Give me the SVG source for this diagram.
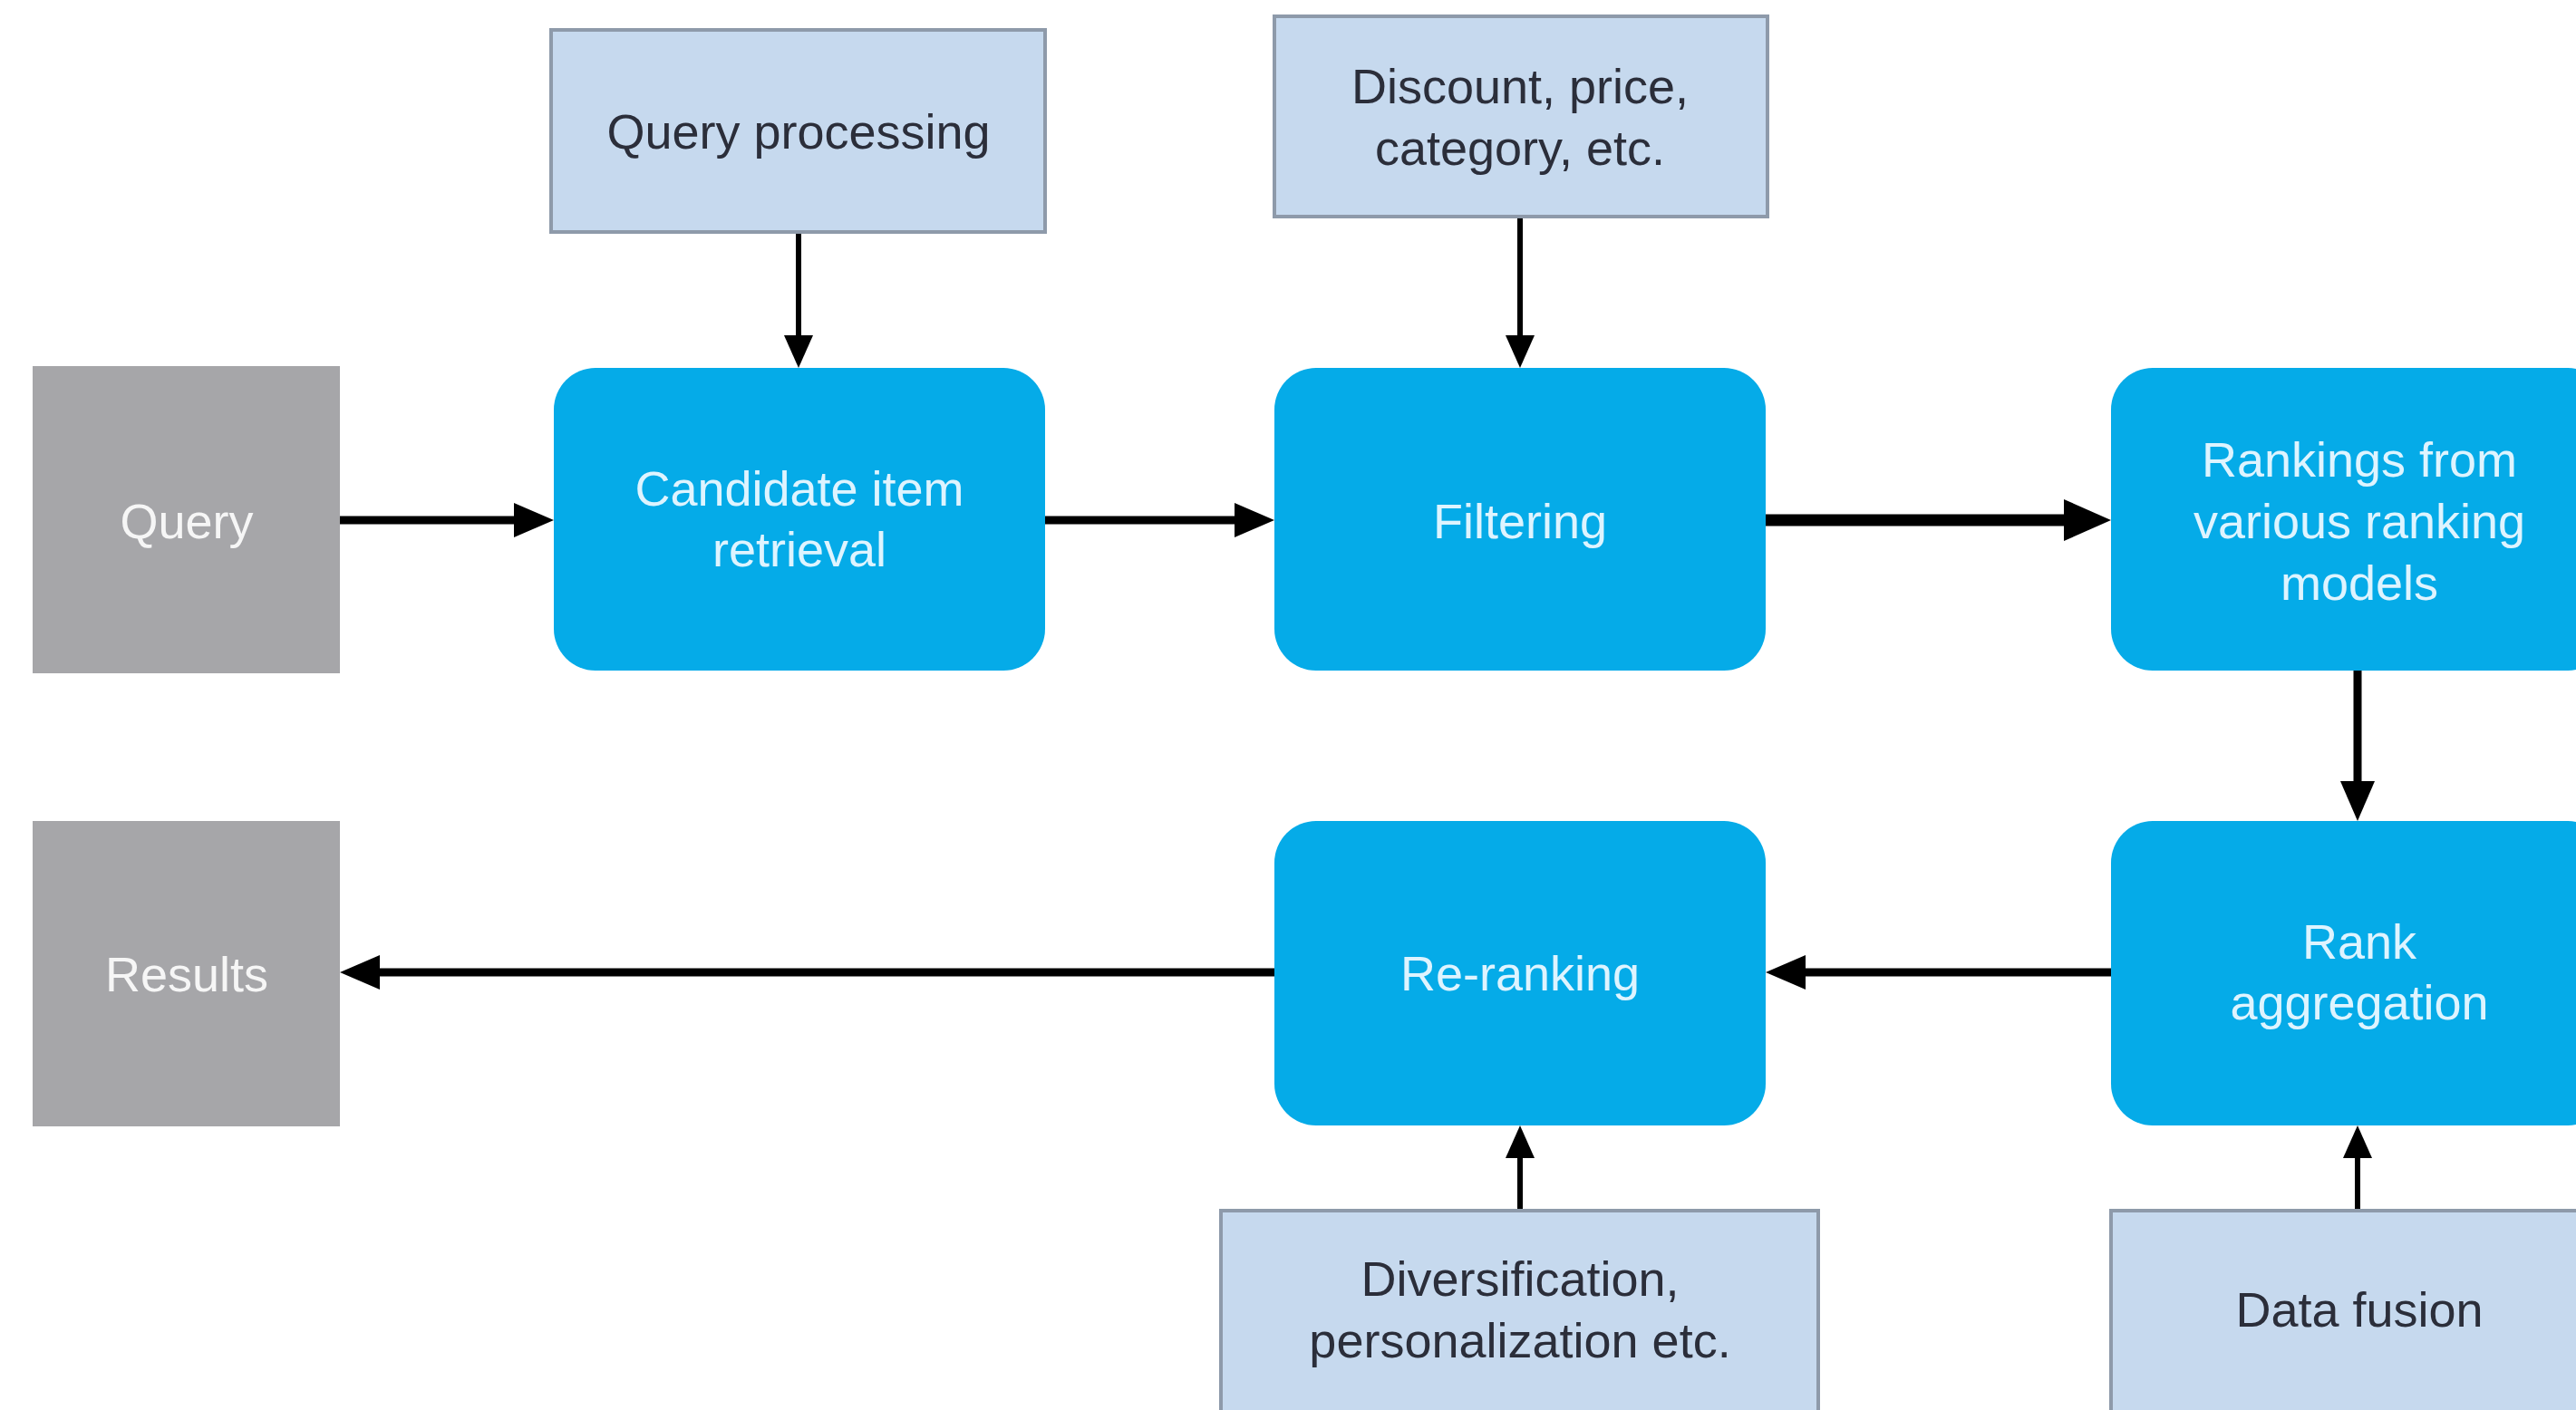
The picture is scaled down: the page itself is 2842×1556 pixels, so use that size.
<svg xmlns="http://www.w3.org/2000/svg" width="2842" height="1556" viewBox="0 0 2842 1556">
<style>
.blue{fill:#05abe8}
.gray{fill:#a6a6a9}
.light{fill:#c6d9ee;stroke:#8e9aaa;stroke-width:4}
text{font-family:"Liberation Sans",Arial,sans-serif;font-size:54px;text-anchor:middle;dominant-baseline:central}
.tb{fill:#def4ff}
.tg{fill:#f6f6f6}
.tl{fill:#2b2e3a}
.c{stroke:#000;fill:none}
.w8{stroke-width:9}
.w11{stroke-width:13}
.w5{stroke-width:6}
</style>
<defs>
<marker id="ah" markerUnits="userSpaceOnUse" markerWidth="44" markerHeight="38" refX="24" refY="19" orient="auto">
<path d="M0,0 L44,19 L0,38 z" fill="#000"/>
</marker>
<marker id="ahBig" markerUnits="userSpaceOnUse" markerWidth="52" markerHeight="46" refX="28" refY="23" orient="auto">
<path d="M0,0 L52,23 L0,46 z" fill="#000"/>
</marker>
<marker id="ahSmall" markerUnits="userSpaceOnUse" markerWidth="36" markerHeight="32" refX="18" refY="16" orient="auto">
<path d="M0,0 L36,16 L0,32 z" fill="#000"/>
</marker>
</defs>
<rect width="2842" height="1556" fill="#ffffff"/>
<g id="connectors">
<line class="c w8" x1="375" y1="574" x2="591" y2="574" marker-end="url(#ah)"/>
<line class="c w8" x1="1153" y1="574" x2="1386" y2="574" marker-end="url(#ah)"/>
<line class="c w11" x1="1948" y1="574" x2="2305" y2="574" marker-end="url(#ahBig)"/>
<line class="c w5" x1="881" y1="256" x2="881" y2="388" marker-end="url(#ahSmall)"/>
<line class="c w5" x1="1677" y1="239" x2="1677" y2="388" marker-end="url(#ahSmall)"/>
<line class="c w8" x1="2601" y1="740" x2="2601" y2="886" marker-end="url(#ah)"/>
<line class="c w8" x1="2329" y1="1073" x2="1968" y2="1073" marker-end="url(#ah)"/>
<line class="c w8" x1="1406" y1="1073" x2="395" y2="1073" marker-end="url(#ah)"/>
<line class="c w5" x1="1677" y1="1336" x2="1677" y2="1260" marker-end="url(#ahSmall)"/>
<line class="c w5" x1="2601" y1="1336" x2="2601" y2="1260" marker-end="url(#ahSmall)"/>
</g>
<g id="query">
<rect class="gray" x="36" y="404" width="339" height="339"/>
<text class="tg" x="206" y="575">Query</text>
</g>
<g id="query-processing">
<rect class="light" x="608" y="33" width="545" height="223"/>
<text class="tl" x="881" y="145">Query processing</text>
</g>
<g id="candidate">
<rect class="blue" x="611" y="406" width="542" height="334" rx="46"/>
<text class="tb" x="882" y="539">Candidate item</text>
<text class="tb" x="882" y="606">retrieval</text>
</g>
<g id="discount">
<rect class="light" x="1406" y="18" width="544" height="221"/>
<text class="tl" x="1677" y="95">Discount, price,</text>
<text class="tl" x="1677" y="163">category, etc.</text>
</g>
<g id="filtering">
<rect class="blue" x="1406" y="406" width="542" height="334" rx="46"/>
<text class="tb" x="1677" y="575">Filtering</text>
</g>
<g id="rankings">
<rect class="blue" x="2329" y="406" width="550" height="334" rx="46"/>
<text class="tb" x="2603" y="507">Rankings from</text>
<text class="tb" x="2603" y="575">various ranking</text>
<text class="tb" x="2603" y="643">models</text>
</g>
<g id="rank-aggregation">
<rect class="blue" x="2329" y="906" width="550" height="336" rx="46"/>
<text class="tb" x="2603" y="1039">Rank</text>
<text class="tb" x="2603" y="1106">aggregation</text>
</g>
<g id="re-ranking">
<rect class="blue" x="1406" y="906" width="542" height="336" rx="46"/>
<text class="tb" x="1677" y="1074">Re-ranking</text>
</g>
<g id="results">
<rect class="gray" x="36" y="906" width="339" height="337"/>
<text class="tg" x="206" y="1075">Results</text>
</g>
<g id="diversification">
<rect class="light" x="1347" y="1336" width="659" height="240"/>
<text class="tl" x="1677" y="1411">Diversification,</text>
<text class="tl" x="1677" y="1479">personalization etc.</text>
</g>
<g id="data-fusion">
<rect class="light" x="2329" y="1336" width="540" height="240"/>
<text class="tl" x="2603" y="1445">Data fusion</text>
</g>
</svg>
